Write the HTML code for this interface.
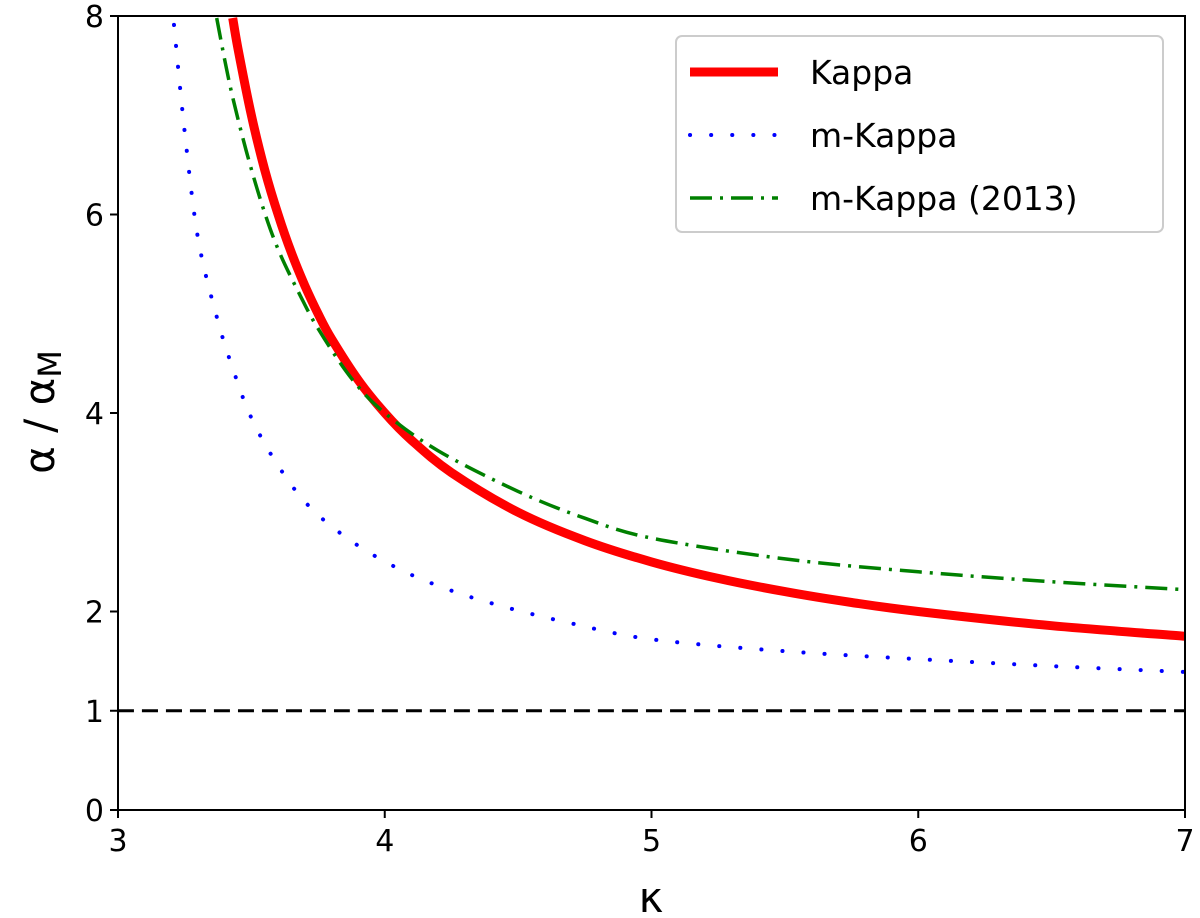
<!DOCTYPE html>
<html><head><meta charset="utf-8"><style>
html,body{margin:0;padding:0;background:#fff;}
svg{display:block;font-family:"DejaVu Sans","Liberation Sans",sans-serif;}
</style></head><body>
<svg id="chart" width="1200" height="918" viewBox="0 0 1200 918">
<g id="plot"></g>
</svg>
<script>
const xTicks=[3,4,5,6,7];
const yTicks=[0,1,2,4,6,8];
const kappaX=[3.43,3.45,3.5,3.55,3.6,3.65,3.7,3.75,3.8,3.9,4,4.1,4.25,4.5,4.75,5,5.25,5.5,5.75,6,6.5,7];
const kappaY=[7.98,7.67,7.0,6.45,6.0,5.615,5.286,5.0,4.75,4.333,4.0,3.727,3.4,3.0,2.714,2.5,2.333,2.2,2.091,2.0,1.857,1.75];
const mKappaX=[3.21,3.25,3.30,3.37,3.43,3.50,3.60,3.72,3.88,4.06,4.24,4.43,4.7,5,5.5,6,6.5,7];
const mKappaY=[7.91,6.83,5.76,4.97,4.45,3.95,3.47,3.05,2.70,2.42,2.22,2.06,1.88,1.72,1.6,1.52,1.45,1.39];
const m2013X=[3.37,3.42,3.48,3.54,3.60,3.68,3.75,3.875,4.0,4.2,4.5,4.75,5,5.5,6,6.5,7];
const m2013Y=[7.98,7.3,6.65,6.1,5.65,5.2,4.85,4.35,4.0,3.62,3.21,2.94,2.74,2.53,2.40,2.30,2.22];
const refY=[1,1];
const refX=[3,7];

const X0=118,X1=1185,Y0=810,Y1=16;
const sx=v=>X0+(v-3)/(7-3)*(X1-X0);
const sy=v=>Y0-(v-0)/(8-0)*(Y0-Y1);
const NS='http://www.w3.org/2000/svg';
const g=document.getElementById('plot');
function mk(tag,attrs,parent){const e=document.createElementNS(NS,tag);for(const k in attrs)e.setAttribute(k,attrs[k]);(parent||g).appendChild(e);return e;}
function smooth(xs,ys){
  const p=xs.map((x,i)=>[sx(x),sy(ys[i])]);
  let d='M'+p[0][0].toFixed(1)+','+p[0][1].toFixed(1);
  for(let i=0;i<p.length-1;i++){
    const p0=p[Math.max(0,i-1)],p1=p[i],p2=p[i+1],p3=p[Math.min(p.length-1,i+2)];
    const c1=[p1[0]+(p2[0]-p0[0])/6,p1[1]+(p2[1]-p0[1])/6];
    const c2=[p2[0]-(p3[0]-p1[0])/6,p2[1]-(p3[1]-p1[1])/6];
    d+=' C'+c1.map(v=>v.toFixed(1)).join(',')+' '+c2.map(v=>v.toFixed(1)).join(',')+' '+p2.map(v=>v.toFixed(1)).join(',');
  }
  return d;
}
const defs=mk('defs',{});
const cp=mk('clipPath',{id:'clip'},defs);
mk('rect',{x:X0,y:Y1,width:X1-X0,height:Y0-Y1},cp);

const series=mk('g',{'clip-path':'url(#clip)'});


let l=mk('path',{d:smooth(refX,refY),fill:'none',stroke:'#000','stroke-width':3,'stroke-dasharray':'16,8'},series);


l=mk('path',{d:smooth(mKappaX,mKappaY),fill:'none',stroke:'#0000ff','stroke-width':4,'stroke-dasharray':'0.1,21','stroke-linecap':'round'},series);


l=mk('path',{d:smooth(kappaX,kappaY),fill:'none',stroke:'#ff0000','stroke-width':9},series);


l=mk('path',{d:smooth(m2013X,m2013Y),fill:'none',stroke:'#008000','stroke-width':3.5,'stroke-dasharray':'22,8,3,8'},series);



let f=mk('rect',{x:X0,y:Y1,width:X1-X0,height:Y0-Y1,fill:'none',stroke:'#000','stroke-width':2});



xTicks.forEach(t=>{
  const tk=mk('line',{x1:sx(t),x2:sx(t),y1:Y0,y2:Y0+8,stroke:'#000','stroke-width':2});
  
  
  const tx=mk('text',{x:sx(t),y:Y0+41,'text-anchor':'middle','font-size':30});
  tx.textContent=t;
  
  
});
yTicks.forEach(t=>{
  const tk=mk('line',{x1:X0-8,x2:X0,y1:sy(t),y2:sy(t),stroke:'#000','stroke-width':2});
  
  
  const tx=mk('text',{x:X0-14,y:sy(t)+11,'text-anchor':'end','font-size':30});
  tx.textContent=t;
  
  
});
let xl=mk('text',{x:651,y:912,'text-anchor':'middle','font-size':42});
xl.textContent='κ';


let yl=mk('text',{x:0,y:0,'text-anchor':'middle','font-size':42,transform:'translate(54,412) rotate(-90)'});
yl.innerHTML='α / α<tspan font-size="32" dy="7">M</tspan>';



const lg=mk('g',{});


mk('rect',{x:676,y:36,width:487,height:196,rx:6,fill:'#fff',stroke:'#ccc','stroke-width':2},lg);
const entries=[['Kappa','#ff0000',9,'none','butt'],['m-Kappa','#0000ff',4,'0.1,21','round'],['m-Kappa (2013)','#008000',3.5,'22,8,3,8','butt']];
entries.forEach((e,i)=>{
  const y=72+i*63;
  const eg=mk('g',{},lg);
  
  
  mk('line',{x1:690,x2:778,y1:y,y2:y,stroke:e[1],'stroke-width':e[2],'stroke-dasharray':e[3],'stroke-linecap':e[4]},eg);
  const t=mk('text',{x:810,y:y+12,'font-size':33},eg);
  t.textContent=e[0];
});
</script>
</body></html>
